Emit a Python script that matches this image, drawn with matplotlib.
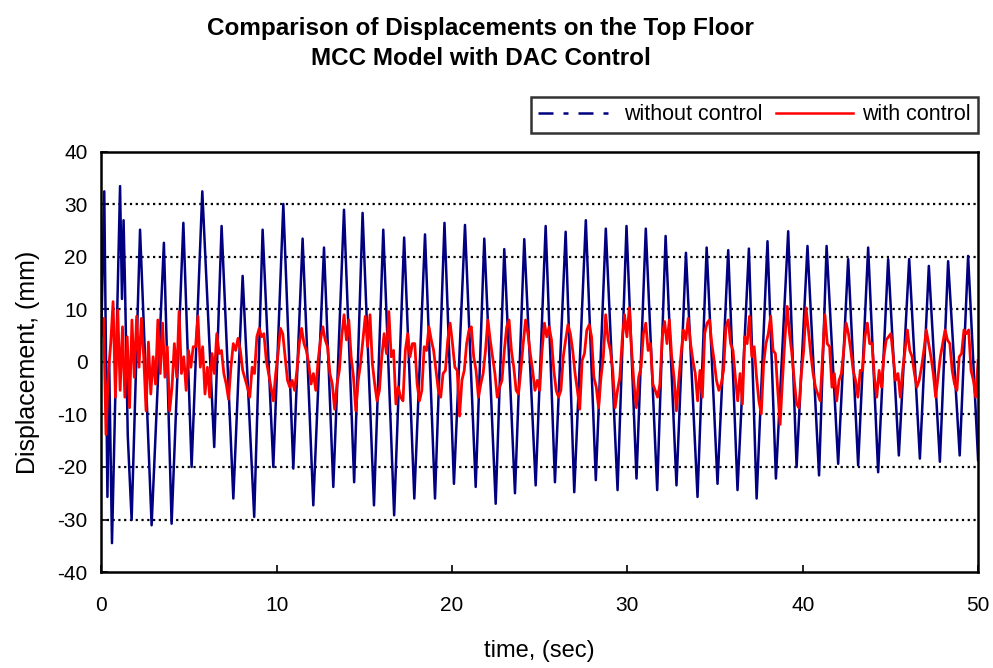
import numpy as np
import matplotlib
matplotlib.use('Agg')
from matplotlib import pyplot as plt
from matplotlib.lines import Line2D

plt.rcParams['font.family'] = ['Liberation Sans', 'DejaVu Sans']
plt.rcParams['axes.unicode_minus'] = False

# without control: turning points (time s, displacement mm)
t_nc = [0.0, 0.17, 0.35, 0.45, 0.61, 1.07, 1.18, 1.27, 1.35, 1.51, 1.73,
        2.21, 2.87, 3.57, 4.01, 4.68, 5.15, 5.76, 6.44, 6.86, 7.53, 8.06,
        8.72, 9.20, 9.81, 10.38, 10.95, 11.48, 12.09, 12.70, 13.23, 13.84,
        14.42, 14.90, 15.55, 16.08, 16.70, 17.27, 17.85, 18.46, 19.03,
        19.57, 20.11, 20.74, 21.35, 21.84, 22.49, 22.98, 23.59, 24.12,
        24.77, 25.34, 25.87, 26.48, 26.97, 27.63, 28.20, 28.77, 29.44,
        29.95, 30.52, 31.05, 31.70, 32.18, 32.80, 33.34, 34.00, 34.52,
        35.14, 35.75, 36.28, 36.93, 37.37, 37.99, 38.47, 39.17, 39.65,
        40.27, 40.93, 41.36, 42.02, 42.59, 43.16, 43.73, 44.30, 44.87,
        45.48, 46.07, 46.68, 47.19, 47.82, 48.29, 48.95, 49.43, 50.0]
d_nc = [5.0, 32.5, -25.7, 0.0, -34.5, 33.5, 12.0, 27.0, 15.0, -14.0, -30.1,
        25.2, -31.1, 22.7, -30.8, 26.5, -20.0, 32.5, -16.2, 25.9, -26.0, 16.4,
        -29.5, 25.2, -20.0, 30.1, -20.3, 23.5, -27.3, 21.8, -23.8, 29.0,
        -22.9, 28.4, -27.3, 25.2, -29.2, 23.7, -26.0, 24.3, -26.0,
        26.5, -23.2, 26.1, -23.8, 23.5, -27.0, 21.5, -25.0, 23.4,
        -23.5, 25.9, -22.9, 24.8, -24.8, 27.0, -22.5, 25.4, -24.4,
        25.9, -22.2, 25.4, -24.4, 24.0, -23.5, 20.8, -25.7, 21.8,
        -23.2, 21.3, -24.4, 21.6, -26.0, 23.0, -22.2, 24.9, -20.0,
        22.1, -21.6, 22.1, -19.4, 19.6, -19.7, 21.8, -21.0, 19.6,
        -17.8, 19.6, -18.4, 18.3, -19.0, 19.2, -17.8, 20.2, -18.7]

# with control: values read at even steps over 0-50 s
d_wc = [5.4, 8.3, -13.8, -2.2, 3.5, 11.5, -6.7, 9.9, -5.4, 6.7, -6.7, 4.8,
        -8.7, 8.0, -2.9, 8.7, -1.0, 8.3, 1.0, -9.3, 3.8, -6.1, 1.0, -4.2,
        8.0, -2.2, 7.4, -2.9, 2.9, -9.3, -4.8, 3.5, -2.9, 9.6, -2.2, 1.0,
        -5.4, 2.2, -1.0, 2.9, 2.9, 8.7, -1.0, 2.9, -6.1, -1.0, -6.7, 1.6,
        -2.2, 5.4, 1.6, 2.2, -2.2, -4.2, -7.1, -1.0, 3.5, 2.2, 4.5, 2.2,
        -1.6, -3.2,
        -4.8, -6.7, -1.0, -2.2, 4.8, 6.4, 4.8, 5.4, 0.3, -2.2, -4.8, -7.4,
        -2.2, 1.6, 6.4, 5.4, 1.0, -3.5, -4.8, -3.5, -5.4, -1.6, 3.5, 6.4,
        3.5, 2.2, -0.3, -4.2, -2.2, -5.4, 0.3, 4.2, 6.7, 4.2, 2.9, -2.2,
        -4.2, -9.0, -4.2, -1.6, 4.8, 9.0, 4.2, 8.0, 1.0, -2.9, -9.3, -3.5,
        -0.3, 4.2, 8.7, 2.9, 9.0, -0.3, -4.2, -7.4, -5.4, 1.0, 5.4, 1.6,
        9.6, 1.0, 2.2, -8.0, -4.8, -6.7,
        -7.4, 2.2, 5.4, 1.0, 3.5, 3.5, -4.2, -7.4, -5.4, 2.9, 2.2, 6.7,
        4.2, 2.2, -1.6, -5.4, -6.7, -2.2, -1.6, 4.2, 7.4, 3.5, -1.0, -1.6,
        -10.3, -3.5, -1.6, 3.5, 6.1, 6.7, 1.0, -1.6, -6.7, -4.2, -2.2, 2.2,
        8.0, 4.2, 1.0, -2.2, -6.7, -4.8, -3.5, 2.2, 6.7, 8.0, 2.2, -1.0,
        -5.4, -6.1, -1.6, 3.5, 8.0, 5.4, 1.6, -1.6, -5.4, -3.5, -5.4, 2.2,
        7.4, 4.8,
        6.7, 4.2, -1.6, -5.4, -6.7, -5.4, 1.0, 4.2, 7.1, 5.4, 2.2, -2.2,
        -5.4, -9.0, 0.3, 1.6, 6.1, 7.1, 4.8, -2.9, -4.8, -8.7, -2.9, 1.0,
        9.0, 4.2, 2.2, -1.6, -8.7, -5.4, -2.9, 4.2, 9.0, 4.8, 10.3, 2.2,
        -4.2, -8.7, -2.9, -1.0, 5.4, 7.4, 2.2, 3.5, -4.2, -5.4, -6.7, -4.2,
        4.8, 7.7, 3.5, 8.0, 1.0, -2.9, -9.3, -3.5, 1.6, 6.1, 4.2, 8.3,
        3.5, 0.3,
        -2.2, -7.4, -1.6, -6.7, 5.4, 7.4, 8.0, 3.5, 0.3, -3.5, -5.4, -4.2,
        -1.6, 6.7, 8.0, 3.5, 2.2, -2.9, -7.4, -2.2, -8.0, 4.8, 3.5, 8.7,
        1.0, 2.9, -2.9, -7.4, -9.9, -0.3, 3.5, 5.4, 8.7, 2.2, 1.6, -5.4,
        -11.9, -3.5, 4.2, 10.6, 5.4, 1.6, -3.5, -8.0, -8.7, -2.2, 2.2, 10.3,
        6.1, 1.6, -2.2, -4.8, -6.1, -7.4, 1.0, 9.0, 3.5, 2.9, -4.8, -2.2,
        -7.4, -3.5,
        -2.2, 2.2, 7.4, 5.4, 2.2, -1.6, -3.5, -6.7, -1.6, -1.6, 4.8, 7.4,
        3.5, 3.5, -2.9, -6.7, -1.6, -4.8, 1.0, 4.2, 4.8, 5.4, 1.0, -3.5,
        -2.2, -6.7, -1.6, 2.2, 6.1, 2.2, 1.0, -2.2, -4.8, -3.5, -1.0, 2.2,
        6.1, 3.5, 1.0, -2.2, -6.7, -2.9, 1.0, 3.5, 6.1, 4.2, 3.5, -1.6,
        -4.2, -5.4, 1.0, 1.6, 6.1, 5.4, 6.1, -1.6, -3.5, -6.7, 0.3]
t_wc = np.linspace(0, 50, len(d_wc))

yticks = [-40, -30, -20, -10, 0, 10, 20, 30, 40]
xticks = [0, 10, 20, 30, 40, 50]

fig = plt.figure(figsize=(9.93, 6.68), dpi=100)
ax = fig.add_axes([0.102, 0.1437, 0.883, 0.6288])

ax.plot(t_nc, d_nc, color='#000080', lw=1.8)
ax.plot(t_wc, d_wc, color='#ff0000', lw=2.0)

ax.set_xlim(0, 50)
ax.set_ylim(-40, 40)
ax.set_xticks(xticks)
ax.set_yticks(yticks)
ax.tick_params(direction='in', length=5, width=1.2, labelsize=15)
ax.tick_params(axis='x', pad=17)
ax.tick_params(axis='y', pad=10)
for y in yticks[1:-1]:
    ax.axhline(y, color='black', lw=1.6, ls=(0, (1, 1.6)), zorder=0)
for s in ax.spines.values():
    s.set_linewidth(1.8)

ax.set_xlabel('time, (sec)', fontsize=17, labelpad=18)
ax.set_ylabel('Displacement, (mm)', fontsize=18, labelpad=12)

fig.text(0.484, 0.958, 'Comparison of Displacements on the Top Floor',
         ha='center', va='center', fontsize=17.5, fontweight='bold')
fig.text(0.484, 0.912, 'MCC Model with DAC Control',
         ha='center', va='center', fontsize=17.5, fontweight='bold')

handles = [Line2D([], [], color='#000080', lw=1.8, ls=(0, (6, 4, 2, 4))),
           Line2D([], [], color='#ff0000', lw=1.8)]
leg = fig.legend(handles, ['without control', 'with control'], ncol=2,
                 loc='upper right', bbox_to_anchor=(0.985, 0.855),
                 fontsize=15.5, handlelength=3.6, fancybox=False,
                 borderaxespad=0, borderpad=0.35, columnspacing=0.6,
                 handletextpad=0.4)
leg.get_frame().set_edgecolor('black')
leg.get_frame().set_linewidth(1.8)

fig.savefig('out.png', dpi=100)
